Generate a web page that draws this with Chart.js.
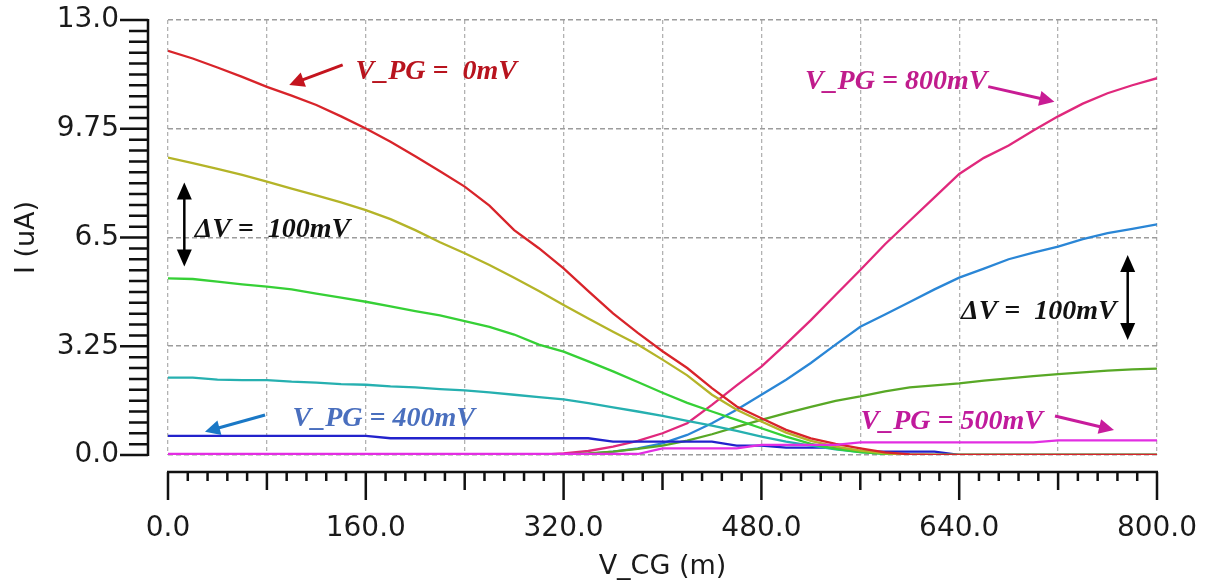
<!DOCTYPE html>
<html>
<head>
<meta charset="utf-8">
<script src="https://cdn.jsdelivr.net/npm/chart.js@4/dist/chart.umd.min.js"></script>
<style>
  html, body { margin: 0; padding: 0; background: #fff; }
</style>
</head>
<body>
<canvas id="ivChart" width="1217" height="585"></canvas>
<script>
(function () {

    // V_CG sweep (mV), one sample every 20 mV
    var vcg = [0, 20, 40, 60, 80, 100, 120, 140, 160, 180, 200, 220, 240, 260, 280, 300, 320, 340, 360, 380,
        400, 420, 440, 460, 480, 500, 520, 540, 560, 580, 600, 620, 640, 660, 680, 700, 720, 740, 760, 780, 800];

    // drain current (uA) for each V_PG
    var pg0 = [12.08, 11.85, 11.58, 11.3, 11.0, 10.74, 10.46, 10.12, 9.76, 9.36, 8.93, 8.48, 8.02, 7.45, 6.72, 6.18,
        5.58, 4.9, 4.23, 3.65, 3.1, 2.6, 2.0, 1.45, 1.1, 0.75, 0.5, 0.33, 0.2, 0.08, 0.02, 0, 0, 0, 0, 0, 0, 0, 0, 0, 0];
    var pg100 = [8.89, 8.72, 8.55, 8.37, 8.17, 7.96, 7.76, 7.55, 7.32, 7.05, 6.72, 6.36, 6.03, 5.68, 5.3, 4.9,
        4.48, 4.08, 3.68, 3.3, 2.85, 2.38, 1.8, 1.35, 1.0, 0.67, 0.42, 0.25, 0.13, 0.05, 0.01, 0, 0, 0, 0, 0, 0, 0, 0, 0, 0];
    var pg200 = [5.28, 5.26, 5.18, 5.1, 5.03, 4.95, 4.82, 4.7, 4.58, 4.44, 4.3, 4.17, 4.0, 3.83, 3.6, 3.3,
        3.09, 2.8, 2.5, 2.18, 1.86, 1.56, 1.3, 1.05, 0.8, 0.55, 0.33, 0.18, 0.09, 0.03, 0, 0, 0, 0, 0, 0, 0, 0, 0, 0, 0];
    var pg300 = [2.31, 2.31, 2.25, 2.24, 2.24, 2.19, 2.16, 2.12, 2.1, 2.05, 2.02, 1.97, 1.93, 1.87, 1.8, 1.73,
        1.66, 1.55, 1.42, 1.3, 1.17, 1.02, 0.88, 0.72, 0.55, 0.4, 0.28, 0.17, 0.09, 0.04, 0.01, 0, 0, 0, 0, 0, 0, 0, 0, 0, 0];
    var pg400 = [0.57, 0.57, 0.57, 0.57, 0.57, 0.57, 0.57, 0.57, 0.57, 0.5, 0.5, 0.5, 0.5, 0.5, 0.5, 0.5,
        0.5, 0.5, 0.4, 0.4, 0.4, 0.4, 0.4, 0.28, 0.28, 0.22, 0.22, 0.22, 0.1, 0.1, 0.1, 0.1, 0, 0, 0, 0, 0, 0, 0, 0, 0];
    var pg500 = [0.03, 0.03, 0.03, 0.03, 0.03, 0.03, 0.03, 0.03, 0.03, 0.03, 0.03, 0.03, 0.03, 0.03, 0.03, 0.03,
        0.03, 0.03, 0.03, 0.03, 0.2, 0.2, 0.2, 0.2, 0.3, 0.3, 0.3, 0.3, 0.38, 0.38, 0.38, 0.38, 0.38, 0.38, 0.38, 0.38,
        0.44, 0.44, 0.44, 0.44, 0.44];
    var pg600 = [0, 0, 0, 0, 0, 0, 0, 0, 0, 0, 0, 0, 0, 0, 0, 0, 0.02, 0.05, 0.1, 0.18, 0.28, 0.43, 0.62, 0.84, 1.05,
        1.25, 1.44, 1.62, 1.75, 1.9, 2.02, 2.08, 2.14, 2.22, 2.29, 2.36, 2.42, 2.47, 2.52, 2.56, 2.58];
    var pg700 = [0, 0, 0, 0, 0, 0, 0, 0, 0, 0, 0, 0, 0, 0, 0, 0, 0, 0.03, 0.1, 0.2, 0.35, 0.6, 0.95, 1.35, 1.8,
        2.25, 2.75, 3.3, 3.83, 4.2, 4.57, 4.95, 5.3, 5.57, 5.85, 6.05, 6.23, 6.45, 6.63, 6.76, 6.89];
    var pg800 = [0, 0, 0, 0, 0, 0, 0, 0, 0, 0, 0, 0, 0, 0, 0, 0, 0.05, 0.12, 0.25, 0.42, 0.65, 0.95, 1.5, 2.08, 2.64,
        3.32, 4.03, 4.78, 5.53, 6.3, 7.0, 7.7, 8.4, 8.88, 9.25, 9.7, 10.12, 10.5, 10.81, 11.05, 11.26];

    var seriesNames = ["V_PG=500mV", "V_PG=0mV", "V_PG=100mV", "V_PG=200mV", "V_PG=300mV", "V_PG=400mV",
        "V_PG=600mV", "V_PG=700mV", "V_PG=800mV"];
    var seriesValues = [pg500, pg0, pg100, pg200, pg300, pg400, pg600, pg700, pg800];
    var seriesColors = ["#e22ee2", "#d8242a", "#b4b428", "#36d036", "#26b0b0", "#2222cc", "#58a826", "#2a86d6", "#e0287c"];

    var xTickLabels = ["0.0", "160.0", "320.0", "480.0", "640.0", "800.0"];
    var yTickLabels = ["0.0", "3.25", "6.5", "9.75", "13.0"];

    // labels and arrows, placed in data units
    var notes = [
        {text: "V_PG =  0mV", x: 217, y: 11.45, color: "#b8141e"},
        {text: "V_PG = 800mV", x: 589, y: 11.15, color: "#c01c8c"},
        {text: "\u0394V =  100mV", x: 84.5, y: 6.72, color: "#111"},
        {text: "V_PG = 400mV", x: 174.5, y: 1.08, color: "#4a6fbe"},
        {text: "V_PG = 500mV", x: 634, y: 1.0, color: "#c01a9c"},
        {text: "\u0394V =  100mV", x: 704.5, y: 4.28, color: "#111"}
    ];
    var arrows = [
        {x1: 141.3, y1: 11.66, x2: 98.1, y2: 11.06, color: "#c4141e", both: false},
        {x1: 663.5, y1: 11.01, x2: 717, y2: 10.56, color: "#c81c94", both: false},
        {x1: 78.5, y1: 1.195, x2: 29.9, y2: 0.696, color: "#1a78c6", both: false},
        {x1: 717.5, y1: 1.166, x2: 765.2, y2: 0.747, color: "#c81c9c", both: false},
        {x1: 13.2, y1: 8.14, x2: 13.2, y2: 5.63, color: "#000", both: true},
        {x1: 776.3, y1: 5.98, x2: 776.3, y2: 3.44, color: "#000", both: true}
    ];

    function drawHead(ctx, fx, fy, tx, ty, len, half) {
        var a = Math.atan2(ty - fy, tx - fx);
        ctx.beginPath();
        ctx.moveTo(tx, ty);
        ctx.lineTo(tx - len * Math.cos(a) + half * Math.sin(a), ty - len * Math.sin(a) - half * Math.cos(a));
        ctx.lineTo(tx - len * Math.cos(a) - half * Math.sin(a), ty - len * Math.sin(a) + half * Math.cos(a));
        ctx.closePath();
        ctx.fill();
    }

    var decor = {
        id: "decor",
        afterDraw: function (chart) {
            var ctx = chart.ctx;
            var xs = chart.scales.x;
            var ys = chart.scales.y;
            var area = chart.chartArea;
            var spineX = area.left - 20;
            var spineY = area.bottom + 17;
            var k, p, len;

            ctx.save();
            ctx.strokeStyle = "#111";
            ctx.lineWidth = 2.5;
            ctx.lineCap = "butt";

            // left axis with minor ticks
            ctx.beginPath();
            ctx.moveTo(spineX, ys.getPixelForValue(ys.max) - 1);
            ctx.lineTo(spineX, ys.getPixelForValue(ys.min) + 1);
            for (k = 0; k <= 40; k++) {
                p = ys.getPixelForValue(k * 0.325);
                len = (k % 10 === 0) ? 28 : 19;
                ctx.moveTo(spineX, p);
                ctx.lineTo(spineX - len, p);
            }
            ctx.stroke();

            // bottom axis with minor ticks
            ctx.beginPath();
            ctx.moveTo(xs.getPixelForValue(xs.min) - 1, spineY);
            ctx.lineTo(xs.getPixelForValue(xs.max) + 1, spineY);
            for (k = 0; k <= 50; k++) {
                p = xs.getPixelForValue(k * 16);
                len = (k % 10 === 0) ? 28 : ((k % 5 === 0) ? 18 : 9);
                ctx.moveTo(p, spineY);
                ctx.lineTo(p, spineY + len);
            }
            ctx.stroke();

            // arrows
            arrows.forEach(function (ar) {
                var x1 = xs.getPixelForValue(ar.x1), y1 = ys.getPixelForValue(ar.y1);
                var x2 = xs.getPixelForValue(ar.x2), y2 = ys.getPixelForValue(ar.y2);
                var hl = ar.both ? 17 : 15;
                var hw = 7.5;
                var a = Math.atan2(y2 - y1, x2 - x1);
                ctx.strokeStyle = ar.color;
                ctx.fillStyle = ar.color;
                ctx.lineWidth = ar.both ? 2.5 : 3;
                ctx.beginPath();
                if (ar.both) {
                    ctx.moveTo(x1 + hl * Math.cos(a) * 0.8, y1 + hl * Math.sin(a) * 0.8);
                } else {
                    ctx.moveTo(x1, y1);
                }
                ctx.lineTo(x2 - hl * Math.cos(a) * 0.8, y2 - hl * Math.sin(a) * 0.8);
                ctx.stroke();
                drawHead(ctx, x1, y1, x2, y2, hl, hw);
                if (ar.both) {
                    drawHead(ctx, x2, y2, x1, y1, hl, hw);
                }
            });

            // text notes
            ctx.font = "bold italic 28px 'Liberation Serif'";
            ctx.textAlign = "center";
            ctx.textBaseline = "middle";
            notes.forEach(function (n) {
                ctx.fillStyle = n.color;
                ctx.fillText(n.text, xs.getPixelForValue(n.x), ys.getPixelForValue(n.y));
            });
            ctx.restore();
        }
    };

    var datasets = [];
    for (var s = 0; s < seriesValues.length; s++) {
        datasets.push({
            label: seriesNames[s],
            data: vcg.map(function (v, i) { return {x: v, y: seriesValues[s][i]}; }),
            borderColor: seriesColors[s],
            backgroundColor: seriesColors[s],
            borderWidth: 2.3,
            pointRadius: 0,
            tension: 0,
            fill: false
        });
    }

    var tickFont = {family: "'DejaVu Sans'", size: 28};

    new Chart(document.getElementById("ivChart").getContext("2d"), {
        type: "line",
        data: {datasets: datasets},
        options: {
            responsive: false,
            animation: false,
            devicePixelRatio: 1,
            layout: {padding: {top: 20, right: 60, left: 0, bottom: 0}},
            plugins: {legend: {display: false}, tooltip: {enabled: false}},
            scales: {
                x: {
                    type: "linear",
                    min: 0,
                    max: 800,
                    border: {display: false, dash: [4, 3]},
                    grid: {color: "#b2b2b2", lineWidth: 1.3, drawTicks: false},
                    ticks: {
                        stepSize: 80,
                        autoSkip: false,
                        maxRotation: 0,
                        padding: 57,
                        color: "#1a1a1a",
                        font: tickFont,
                        callback: function (value) {
                            return (value % 160 === 0) ? xTickLabels[value / 160] : "";
                        }
                    },
                    title: {
                        display: true,
                        text: "V_CG (m)",
                        color: "#1a1a1a",
                        font: {family: "'DejaVu Sans'", size: 27},
                        padding: {top: 0, bottom: 2}
                    },
                    afterFit: function (scale) {
                        scale.height = 130;
                        scale.paddingLeft = 0;
                        scale.paddingRight = 0;
                    }
                },
                y: {
                    type: "linear",
                    min: 0,
                    max: 13,
                    border: {display: false, dash: [5, 3]},
                    grid: {color: "#9c9c9c", lineWidth: 1.6, drawTicks: false},
                    ticks: {
                        stepSize: 3.25,
                        padding: 49,
                        color: "#1a1a1a",
                        font: tickFont,
                        callback: function (value, index) {
                            return yTickLabels[index];
                        }
                    },
                    title: {
                        display: true,
                        text: "I (uA)",
                        color: "#1a1a1a",
                        font: {family: "'DejaVu Sans'", size: 27},
                        padding: {top: 11, bottom: 0}
                    },
                    afterFit: function (scale) {
                        scale.width = 168;
                        scale.paddingTop = 0;
                        scale.paddingBottom = 0;
                    }
                }
            }
        },
        plugins: [decor]
    });

})();
</script>
</body>
</html>
